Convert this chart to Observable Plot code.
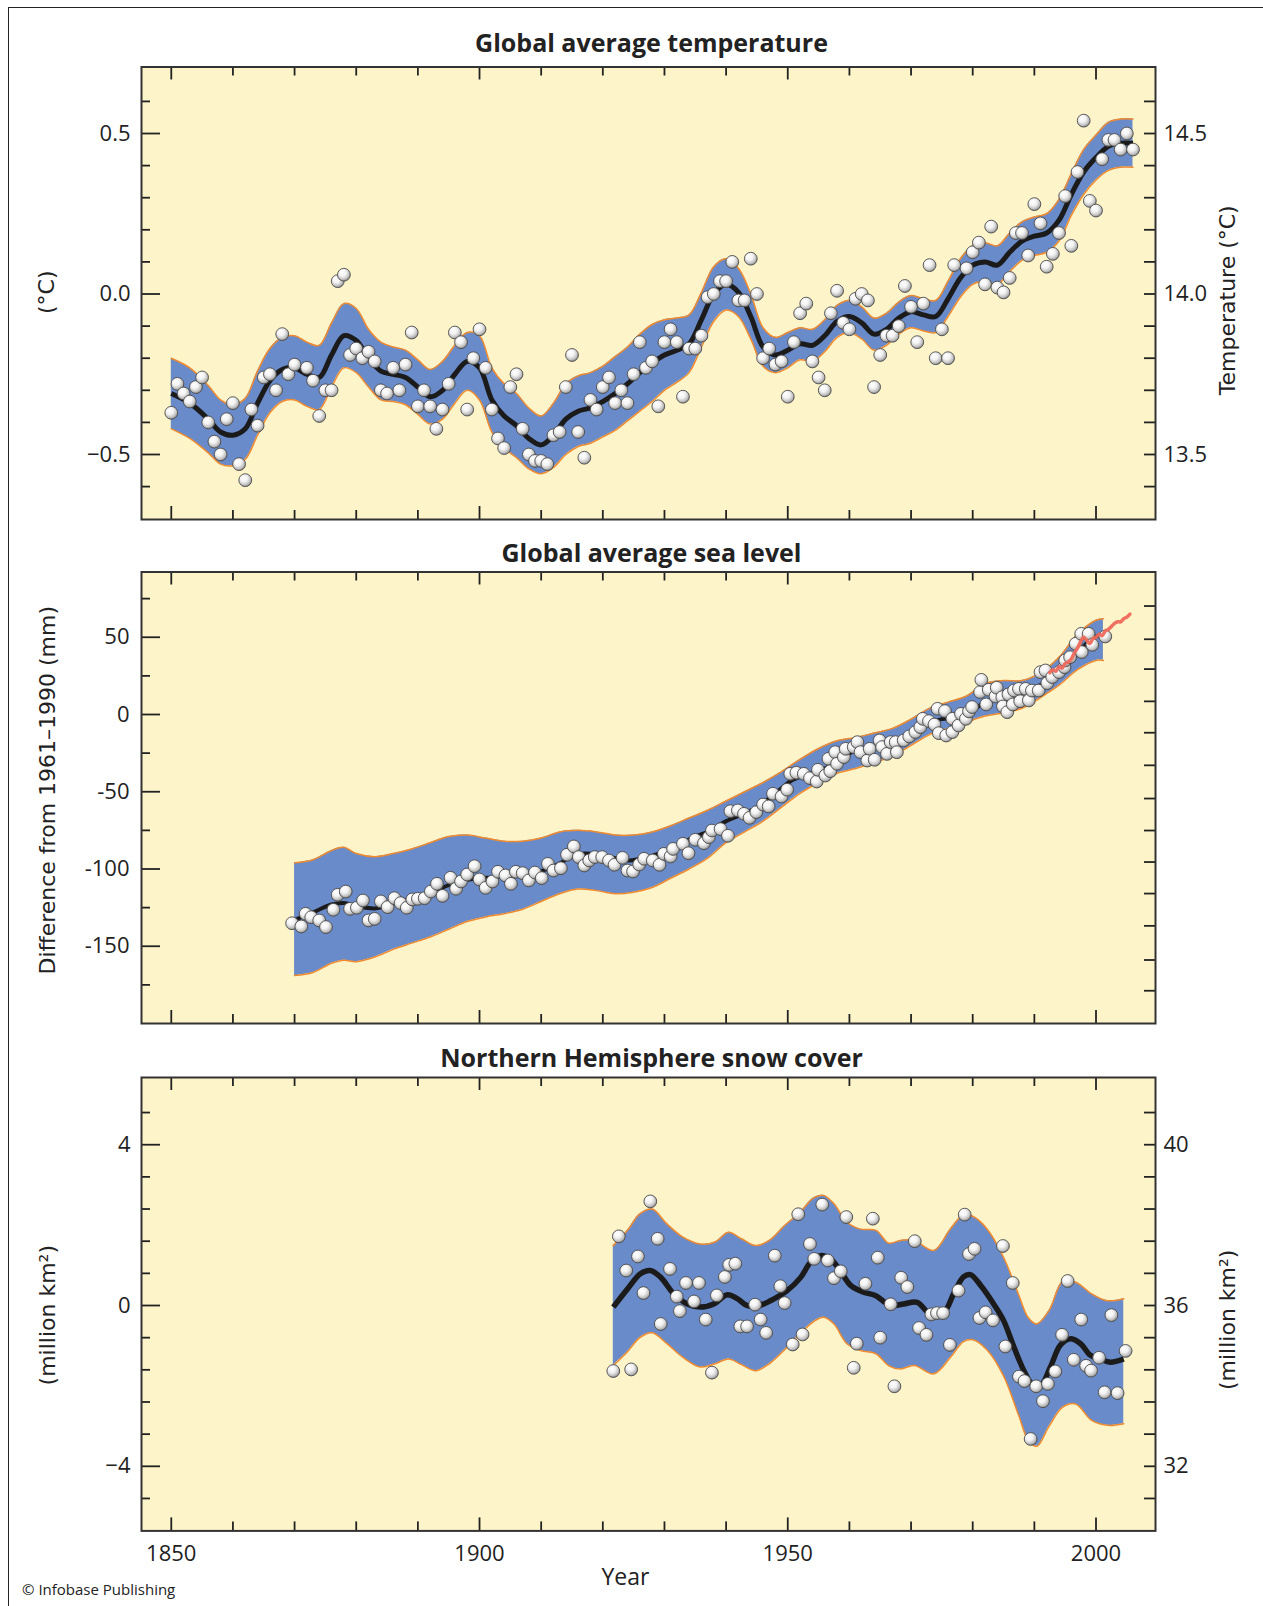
<!DOCTYPE html>
<html>
<head>
<meta charset="utf-8">
<script src="https://cdn.jsdelivr.net/npm/d3@7"></script>
<script src="https://cdn.jsdelivr.net/npm/@observablehq/plot@0.6"></script>
<style>
  html, body { margin: 0; padding: 0; background: #fff; }
  #root { position: relative; width: 1263px; height: 1606px; overflow: hidden; font-family: "Open Sans", sans-serif; }
  #border { position: absolute; left: 8px; top: 7px; width: 1300px; height: 1650px; border-left: 1.5px solid #222; border-top: 1.5px solid #222; }
  .panel { position: absolute; left: 0; }
  #credit { position: absolute; left: 22px; top: 1579px; font-size: 15px; color: #222; font-family: "Open Sans", sans-serif; }
</style>
</head>
<body>
<svg width="0" height="0" style="position:absolute">
  <defs>
    <radialGradient id="ball" cx="0.42" cy="0.38" r="0.62" fx="0.36" fy="0.3">
      <stop offset="0" stop-color="#ffffff"/>
      <stop offset="0.45" stop-color="#f3f3f3"/>
      <stop offset="0.8" stop-color="#c2c2c2"/>
      <stop offset="1" stop-color="#8a8a8a"/>
    </radialGradient>
  </defs>
</svg>
<div id="root">
  <div id="border"></div>
  <div id="credit">© Infobase Publishing</div>
</div>
<script>
// ---------------- DATA ----------------
// shared x axis
const xTicks = [1850,1860,1870,1880,1890,1900,1910,1920,1930,1940,1950,1960,1970,1980,1990,2000];
const xMajorTicks = [1850,1900,1950,2000];
const xTickLabels = ["1850","1900","1950","2000"];

// Panel 1: global average temperature (annual values 1850-2006, null = not visible)
const tempStartYear = 1850;
const tempValues = [
  -0.37,-0.28,-0.31,-0.335,-0.29,-0.26,-0.40,-0.46,-0.50,-0.39,
  -0.34,-0.53,-0.58,-0.36,-0.41,-0.26,-0.25,-0.30,-0.125,-0.25,
  -0.22,null,-0.23,-0.27,-0.38,-0.30,-0.30,0.04,0.06,-0.19,
  -0.17,-0.20,-0.18,-0.21,-0.30,-0.31,-0.23,-0.30,-0.22,-0.12,
  -0.35,-0.30,-0.35,-0.42,-0.36,-0.28,-0.12,-0.15,-0.36,-0.20,
  -0.11,-0.23,-0.36,-0.45,-0.48,-0.29,-0.25,-0.42,-0.50,-0.52,
  -0.52,-0.53,-0.44,-0.43,-0.29,-0.19,-0.43,-0.51,-0.33,-0.36,
  -0.29,-0.26,-0.34,-0.30,-0.34,-0.25,-0.15,-0.23,-0.21,-0.35,
  -0.15,-0.11,-0.15,-0.32,-0.17,-0.17,-0.13,-0.01,0.00,0.04,
  0.04,0.10,-0.02,-0.02,0.11,0.00,-0.20,-0.17,-0.22,-0.21,
  -0.32,-0.15,-0.06,-0.03,-0.21,-0.26,-0.30,-0.06,0.01,-0.09,
  -0.11,-0.015,0.00,-0.02,-0.29,-0.19,-0.13,-0.13,-0.10,0.025,
  -0.04,-0.15,-0.03,0.09,-0.20,-0.11,-0.20,0.09,null,0.08,
  0.13,0.16,0.03,0.21,0.02,0.005,0.05,0.19,0.19,0.12,
  0.28,0.22,0.085,0.125,0.19,0.305,0.15,0.38,0.54,0.29,
  0.26,0.42,0.48,0.48,0.45,0.50,0.45
];
const tempSmoothYears = [1850,1853,1856,1858,1860,1862,1864,1866,1868,1870,1872,1874,1876,1878,1880,1882,1884,1886,1888,1890,1892,1894,1896,1898,1900,1902,1904,1906,1908,1910,1912,1914,1916,1918,1920,1922,1924,1926,1928,1930,1932,1934,1936,1938,1940,1942,1944,1946,1948,1950,1952,1954,1956,1958,1960,1962,1964,1966,1968,1970,1972,1974,1976,1978,1980,1982,1984,1986,1988,1990,1992,1994,1996,1998,2000,2002,2004,2006];
const tempSmooth = [-0.31,-0.34,-0.39,-0.43,-0.44,-0.42,-0.34,-0.27,-0.235,-0.23,-0.25,-0.26,-0.19,-0.13,-0.145,-0.20,-0.24,-0.25,-0.26,-0.29,-0.32,-0.30,-0.25,-0.21,-0.23,-0.33,-0.38,-0.41,-0.45,-0.47,-0.44,-0.39,-0.365,-0.355,-0.335,-0.31,-0.28,-0.245,-0.215,-0.19,-0.175,-0.155,-0.08,0.00,0.03,0.005,-0.07,-0.165,-0.19,-0.175,-0.155,-0.16,-0.13,-0.085,-0.07,-0.09,-0.125,-0.11,-0.075,-0.055,-0.065,-0.07,-0.015,0.05,0.09,0.10,0.09,0.13,0.165,0.18,0.19,0.23,0.31,0.38,0.425,0.46,0.47,0.47];
const tempUncertainty = [0.11,0.11,0.105,0.10,0.095,0.095,0.10,0.10,0.10,0.10,0.10,0.10,0.10,0.10,0.10,0.09,0.09,0.085,0.085,0.085,0.085,0.09,0.09,0.09,0.10,0.10,0.10,0.10,0.095,0.09,0.10,0.11,0.11,0.11,0.11,0.115,0.115,0.12,0.12,0.11,0.10,0.09,0.085,0.085,0.08,0.075,0.07,0.06,0.055,0.055,0.05,0.05,0.05,0.05,0.05,0.05,0.05,0.05,0.05,0.05,0.05,0.05,0.055,0.06,0.06,0.06,0.06,0.06,0.06,0.06,0.06,0.065,0.065,0.07,0.07,0.075,0.075,0.075];
const tempLeftTicks = [-0.6,-0.5,-0.4,-0.3,-0.2,-0.1,0,0.1,0.2,0.3,0.4,0.5,0.6];
const tempMajorTicks = [-0.5,0,0.5];
const tempLeftLabels = ["\u22120.5","0.0","0.5"];
const tempRightLabels = ["13.5","14.0","14.5"];

// Panel 2: global average sea level (mm, difference from 1961-1990)
const seaYears = [1869.6,1871.1,1871.8,1872.7,1874.0,1875.1,1876.3,1877.0,1878.3,1879.0,1880.1,1881.1,1882.0,1883.0,1884.0,1885.1,1886.2,1887.2,1888.2,1889.1,1890.0,1891.1,1892.1,1893.1,1894.0,1895.3,1896.2,1897.0,1898.0,1899.2,1900.0,1901.0,1902.1,1903.0,1904.2,1905.1,1905.9,1907.0,1908.0,1909.0,1910.1,1911.1,1912.0,1913.2,1914.2,1915.3,1916.1,1917.0,1917.8,1918.7,1919.9,1921.0,1921.9,1923.2,1924.0,1924.9,1925.9,1926.7,1928.1,1929.2,1929.9,1931.0,1931.4,1933.0,1933.9,1935.0,1936.4,1937.2,1937.7,1939.1,1940.3,1940.7,1941.9,1942.9,1943.8,1944.9,1946.0,1946.9,1947.6,1949.0,1949.9,1950.4,1951.4,1952.6,1953.6,1954.7,1954.9,1956.1,1956.6,1956.9,1957.7,1958.0,1959.1,1959.4,1960.7,1961.3,1961.8,1962.9,1963.3,1964.1,1964.9,1965.3,1966.1,1966.7,1967.5,1967.7,1968.8,1969.7,1970.7,1971.5,1971.9,1972.9,1973.8,1974.3,1974.5,1975.5,1975.7,1976.7,1976.7,1977.7,1978.1,1978.9,1979.4,1979.9,1981.2,1981.4,1982.2,1982.6,1983.7,1983.9,1984.8,1984.9,1985.6,1985.8,1986.5,1986.7,1987.5,1987.7,1988.6,1989.1,1989.6,1990.7,1991.0,1991.8,1992.1,1992.9,1994.0,1994.9,1995.0,1995.8,1996.7,1997.6,1997.7,1998.8,1999.4,2001.5];
const seaValues = [-135.1,-137.2,-129.0,-131.2,-133.3,-137.6,-126.4,-116.7,-114.6,-125.8,-125.1,-120.4,-133.3,-132.3,-121.0,-124.7,-118.9,-122.1,-125.1,-119.7,-119.3,-118.9,-114.6,-109.6,-117.4,-105.7,-112.8,-108.1,-103.6,-98.2,-106.8,-112.2,-108.1,-101.8,-104.2,-109.6,-101.8,-102.7,-107.4,-102.3,-105.9,-96.7,-101.0,-99.5,-90.8,-85.4,-92.3,-97.7,-94.5,-92.3,-92.3,-94.5,-97.3,-92.8,-101.0,-101.6,-97.1,-93.4,-94.5,-97.3,-90.2,-91.9,-87.0,-83.7,-89.8,-81.1,-83.3,-79.4,-75.1,-74.2,-78.5,-62.6,-62.1,-64.3,-66.9,-63.2,-58.3,-59.5,-51.3,-53.1,-48.7,-38.4,-37.7,-38.4,-41.2,-43.4,-35.8,-39.5,-28.7,-36.7,-24.4,-31.9,-27.6,-22.2,-21.1,-17.9,-24.4,-29.8,-22.2,-29.3,-16.8,-21.1,-25.5,-17.9,-17.9,-24.4,-16.8,-14.2,-11.4,-8.2,-2.8,-4.3,-6.5,3.7,-12.1,2.2,-13.6,-11.4,-2.8,-7.1,0.4,-2.8,2.0,4.8,14.5,22.4,6.5,16.0,11.7,17.3,11.2,5.2,1.5,13.0,6.5,15.5,16.6,8.6,16.6,9.1,15.5,15.5,27.4,28.5,20.3,24.2,27.4,30.6,35.0,37.1,45.8,52.2,40.4,52.2,45.1,50.5];
const seaSmoothYears = [1870,1873,1876,1878,1880,1883,1885,1887,1889,1891.5,1894,1896,1898,1900,1902,1905,1907,1909,1911,1913,1915,1917,1920,1922,1924,1926,1928,1930.5,1932.5,1935,1937,1940,1943,1945,1948,1950.5,1953,1956,1959,1961,1964,1967,1970,1972,1975,1977.5,1980,1983,1986,1988,1991,1993.5,1996.5,1999,2001];
const seaSmooth = [-133,-128,-123,-122,-124,-125.5,-124,-121.5,-119,-116,-112,-109,-107,-106,-105.5,-104.5,-104,-102.5,-100,-96.5,-91.5,-90,-91,-93,-94.5,-93.5,-91.5,-88,-84,-79,-76,-69,-64,-60,-51,-43,-39,-35,-28,-23,-21,-19,-11,-6,-3,-2,3,10,13,14.5,19,25,37,48,52];
const seaBandYears = [1870,1873,1876,1878,1880,1883,1886,1889,1892,1895,1898,1901,1904,1907,1910,1913,1916,1919,1922,1925,1928,1931,1934,1937,1940,1943,1946,1949,1952,1955,1958,1961,1964,1967,1970,1973,1976,1979,1982,1985,1988,1991,1994,1997,2000,2001.2];
const seaBandHigh = [-96,-94,-88,-86,-90,-92,-90,-87,-83,-79,-78,-80,-82,-82,-80,-76,-75,-76,-78,-78,-76,-72,-67,-62,-56,-50,-44,-37,-29,-22,-17,-15,-12,-9,-3,4,8,12,20,22,22,27,37,52,61,62];
const seaBandLow = [-169,-167,-161,-159,-160,-157,-152,-148,-144,-139,-134,-131,-129,-126,-121,-116,-113,-114,-116,-115,-112,-106,-100,-93,-83,-76,-69,-60,-51,-44,-38,-35,-31,-27,-20,-13,-9,-5,-1,1,4,11,19,29,35,35];
const satYears = [1992.5,1993,1993.5,1994,1994.5,1995,1995.5,1996,1996.5,1997,1997.5,1998,1998.5,1999,1999.5,2000,2000.5,2001,2001.5,2002,2002.5,2003,2003.5,2004,2004.5,2005,2005.5];
const satValues = [27,29,28,31,30,33,34,36,40,43,47,50,48,46,49,50,52,51,54,55,57,59,60,60,62,63,65];
const seaLeftTicks = [-175,-150,-125,-100,-75,-50,-25,0,25,50,75];
const seaMajorTicks = [-150,-100,-50,0,50];
const seaLeftLabels = ["-150","-100","-50","0","50"];
const seaRightTicks = [70.2,48.7,29.4,8.5,-11.8,-32.9,-54.4,-75.1,-95.5,-115.9,-136.8,-158.9,-178.8];

// Panel 3: Northern Hemisphere snow cover (million km2 anomaly)
const snowYears = [1921.7,1922.6,1923.8,1924.6,1925.7,1926.6,1927.7,1928.9,1929.4,1930.9,1932.0,1932.5,1933.5,1934.8,1935.6,1936.7,1937.7,1938.5,1939.8,1940.5,1941.5,1942.3,1943.4,1944.7,1945.6,1946.5,1947.9,1948.8,1949.5,1950.8,1951.7,1952.4,1953.6,1954.3,1955.6,1956.5,1957.5,1958.6,1959.5,1960.7,1961.2,1962.6,1963.8,1964.6,1965.0,1966.7,1967.3,1968.4,1969.4,1970.6,1971.3,1972.5,1973.3,1974.2,1975.2,1976.3,1977.7,1978.7,1979.4,1980.3,1981.1,1982.1,1983.3,1984.9,1985.3,1986.5,1987.5,1988.4,1989.4,1990.3,1991.4,1992.2,1993.4,1994.5,1995.4,1996.4,1997.6,1998.4,1999.2,2000.5,2001.4,2002.5,2003.5,2004.8];
const snowValues = [-1.63,1.72,0.87,-1.59,1.22,0.31,2.59,1.66,-0.46,0.91,0.22,-0.14,0.56,0.10,0.56,-0.35,-1.67,0.25,0.71,1.01,1.04,-0.52,-0.52,0.02,-0.35,-0.68,1.24,0.48,0.06,-0.97,2.27,-0.72,1.53,1.16,2.51,1.12,0.68,0.85,2.20,-1.55,-0.95,0.54,2.16,1.19,-0.80,0.03,-2.01,0.69,0.46,1.60,-0.56,-0.73,-0.22,-0.19,-0.19,-0.98,0.37,2.26,1.28,1.41,-0.31,-0.17,-0.37,1.48,-1.02,0.56,-1.77,-1.88,-3.32,-2.01,-2.38,-1.95,-1.64,-0.73,0.61,-1.35,-0.35,-1.50,-1.62,-1.30,-2.16,-0.24,-2.18,-1.13];
const snowSmoothYears = [1921.7,1924,1926.1,1927.7,1929.4,1931.5,1933.7,1935.8,1938,1940.2,1941.8,1943.4,1945,1947.2,1949.9,1952.1,1953.7,1955.3,1956.9,1958.5,1960.2,1962.3,1964.2,1966.7,1968.8,1971,1973.1,1975.3,1976.9,1978.5,1979.6,1981.3,1983.4,1985,1986.7,1988.3,1989.6,1991,1992.6,1994.2,1995.8,1997.5,1999.1,2000.7,2002.3,2004.5];
const snowSmooth = [-0.04,0.41,0.79,0.87,0.70,0.29,0.04,-0.04,0.04,0.27,0.17,0.0,-0.02,0.12,0.37,0.70,1.08,1.24,1.16,0.87,0.50,0.33,0.25,0.0,0.04,0.08,-0.21,-0.17,0.29,0.71,0.77,0.50,0.04,-0.37,-1.04,-1.62,-1.95,-1.99,-1.53,-0.99,-0.83,-0.95,-1.24,-1.33,-1.41,-1.33];
const snowBandYears = [1921.7,1924,1926,1928,1930.4,1933,1935.8,1938.2,1940.4,1942.5,1944.8,1947,1949.5,1952,1954.2,1955.8,1957.5,1959.6,1961.8,1964.3,1966.4,1968.3,1970.5,1973.7,1976.4,1978.5,1980,1982.3,1985,1987.5,1989,1990.4,1992.4,1994.6,1996.7,1999.3,2001.8,2004.5];
const snowBandHigh = [1.49,1.87,2.28,2.40,2.03,1.70,1.53,1.58,1.82,1.66,1.49,1.62,1.99,2.32,2.68,2.74,2.53,2.07,1.90,1.87,1.55,1.62,1.62,1.37,1.91,2.25,2.22,1.91,1.20,0.25,-0.30,-0.46,-0.12,0.60,0.58,0.29,0.12,0.17];
const snowBandLow = [-1.49,-1.15,-0.80,-0.68,-0.95,-1.29,-1.53,-1.45,-1.33,-1.47,-1.62,-1.45,-1.10,-0.70,-0.40,-0.29,-0.46,-0.95,-1.12,-1.20,-1.50,-1.58,-1.49,-1.70,-1.29,-0.90,-0.85,-1.10,-1.75,-2.75,-3.35,-3.50,-3.00,-2.53,-2.45,-2.86,-2.98,-2.94];
const snowTicks = [-4.8,-4,-3.2,-2.4,-1.6,-0.8,0,0.8,1.6,2.4,3.2,4,4.8];
const snowMajorTicks = [-4,0,4];
const snowLeftLabels = ["\u22124","0","4"];
const snowRightLabels = ["32","36","40"];

// ---------------- STYLE / LAYOUT ----------------
const WIDTH = 1263, FRAME_LEFT = 141, FRAME_RIGHT = 1155;
const X_DOMAIN = [1845.17, 2009.65];
const PX_PER_YEAR = (FRAME_RIGHT - FRAME_LEFT) / (X_DOMAIN[1] - X_DOMAIN[0]);
const C = { bg: "#fdf5c9", band: "#6a8bc9", edge: "#f08a2e", line: "#1b1b1b", frame: "#333", tick: "#222", text: "#222", sat: "#ee6a5c" };

const zip2 = (xs, ys) => xs.map((x, i) => ({ x, y: ys[i] }));

function tickMarks(yDomain, frameH, leftTicks, leftMajor, rightTicks) {
  const pxY = frameH / (yDomain[1] - yDomain[0]);
  const [x0, x1] = X_DOMAIN, [y0, y1] = yDomain;
  const s = { stroke: C.tick, strokeWidth: 1.8 };
  const xl = d => (xMajorTicks.includes(d) ? 13 : 9) / pxY;
  return [
    Plot.ruleY(leftTicks, { y: d => d, x1: x0, x2: d => x0 + (leftMajor.includes(d) ? 19 : 9) / PX_PER_YEAR, ...s }),
    Plot.ruleY(rightTicks, { y: d => d, x1: x1 - 11 / PX_PER_YEAR, x2: x1, ...s }),
    Plot.ruleX(xTicks, { x: d => d, y1: y0, y2: d => y0 + xl(d), ...s }),
    Plot.ruleX(xTicks, { x: d => d, y1: d => y1 - xl(d), y2: y1, ...s })
  ];
}

function seriesMarks(band, smooth, lineWidth) {
  return [
    Plot.areaY(band, { x: "x", y1: "lo", y2: "hi", fill: C.band, curve: "catmull-rom" }),
    Plot.line(band, { x: "x", y: "hi", stroke: C.edge, strokeWidth: 1.5, curve: "catmull-rom" }),
    Plot.line(band, { x: "x", y: "lo", stroke: C.edge, strokeWidth: 1.5, curve: "catmull-rom" }),
    Plot.line(smooth, { x: "x", y: "y", stroke: C.line, strokeWidth: lineWidth, curve: "catmull-rom", strokeLinecap: "butt" }),
  ];
}

function dotMark(dots) {
  return Plot.dot(dots, { x: "x", y: "y", r: 6.4, fill: "url(#ball)", stroke: "#4b4b4b", strokeWidth: 0.9 });
}

function makePanel({ top, height, marginTop, marginBottom, yDomain, marks, ticks }) {
  const svg = Plot.plot({
    width: WIDTH, height,
    marginLeft: FRAME_LEFT, marginRight: WIDTH - FRAME_RIGHT, marginTop, marginBottom,
    x: { type: "linear", domain: X_DOMAIN, axis: null },
    y: { type: "linear", domain: yDomain, axis: null },
    style: { fontFamily: '"Open Sans", sans-serif', background: "transparent", color: C.text, overflow: "visible" },
    marks: [Plot.frame({ fill: C.bg }), ...marks, ...ticks, Plot.frame({ stroke: C.frame, strokeWidth: 2 })]
  });
  const div = document.createElement("div");
  div.className = "panel";
  div.style.top = top + "px";
  div.appendChild(svg);
  document.getElementById("root").appendChild(div);
}

const labelFor = (ticks, labels) => d => labels[ticks.indexOf(d)];
const titleOpts = { text: d => d, frameAnchor: "top", textAnchor: "middle", lineAnchor: "middle", fontSize: 25, fontWeight: "bold", fill: C.text, dx: 3 };
const axisTitle = { text: d => d, rotate: -90, textAnchor: "middle", lineAnchor: "middle", fontSize: 22, fontFamily: '"DejaVu Sans", sans-serif', fill: C.text };
const tickText = { tickSize: 0, fontSize: 22, label: null, fill: C.text };

// ---------------- PANEL 1 ----------------
{
  const yDomain = [-0.7025, 0.7072];
  const dots = tempValues.map((v, i) => ({ x: tempStartYear + i, y: v }));
  const band = tempSmoothYears.map((x, i) => ({ x, lo: tempSmooth[i] - tempUncertainty[i], hi: tempSmooth[i] + tempUncertainty[i] }));
  const smooth = zip2(tempSmoothYears, tempSmooth);
  makePanel({
    top: 0, height: 530, marginTop: 66.5, marginBottom: 11, yDomain,
    marks: [
      ...seriesMarks(band, smooth, 5),
      dotMark(dots),
      Plot.axisY(tempMajorTicks, { ...tickText, anchor: "left", tickPadding: 11, tickFormat: labelFor(tempMajorTicks, tempLeftLabels) }),
      Plot.axisY(tempMajorTicks, { ...tickText, anchor: "right", tickPadding: 8, tickFormat: labelFor(tempMajorTicks, tempRightLabels) }),
      Plot.text(["Global average temperature"], { ...titleOpts, dy: -23.5 }),
      Plot.text(["(°C)"], { ...axisTitle, frameAnchor: "left", dx: -95, dy: -1 }),
      Plot.text(["Temperature (°C)"], { ...axisTitle, frameAnchor: "right", dx: 72, dy: 7 })
    ],
    ticks: tickMarks(yDomain, 452.5, tempLeftTicks, tempMajorTicks, tempLeftTicks)
  });
}

// ---------------- PANEL 2 ----------------
{
  const yDomain = [-200, 92.23];
  const dots = zip2(seaYears, seaValues);
  const band = seaBandYears.map((x, i) => ({ x, lo: seaBandLow[i], hi: seaBandHigh[i] }));
  const smooth = zip2(seaSmoothYears, seaSmooth);
  makePanel({
    top: 530, height: 500, marginTop: 41.5, marginBottom: 7, yDomain,
    marks: [
      ...seriesMarks(band, smooth, 4),
      dotMark(dots),
      Plot.line(zip2(satYears, satValues), { x: "x", y: "y", stroke: C.sat, strokeWidth: 3.5, curve: "catmull-rom", strokeOpacity: 0.95 }),
      Plot.axisY(seaMajorTicks, { ...tickText, anchor: "left", tickPadding: 12, tickFormat: labelFor(seaMajorTicks, seaLeftLabels) }),
      Plot.text(["Global average sea level"], { ...titleOpts, dy: -18.5 }),
      Plot.text(["Difference from 1961\u20131990 (mm)"], { ...axisTitle, frameAnchor: "left", dx: -94, dy: -7.5 })
    ],
    ticks: tickMarks(yDomain, 451.5, seaLeftTicks, seaMajorTicks, seaRightTicks)
  });
}

// ---------------- PANEL 3 ----------------
{
  const yDomain = [-5.607, 5.672];
  const dots = zip2(snowYears, snowValues);
  const band = snowBandYears.map((x, i) => ({ x, lo: snowBandLow[i], hi: snowBandHigh[i] }));
  const smooth = zip2(snowSmoothYears, snowSmooth);
  makePanel({
    top: 1030, height: 576, marginTop: 47, marginBottom: 75.6, yDomain,
    marks: [
      ...seriesMarks(band, smooth, 5.5),
      dotMark(dots),
      Plot.axisY(snowMajorTicks, { ...tickText, anchor: "left", tickPadding: 11, tickFormat: labelFor(snowMajorTicks, snowLeftLabels) }),
      Plot.axisY(snowMajorTicks, { ...tickText, anchor: "right", tickPadding: 8, tickFormat: labelFor(snowMajorTicks, snowRightLabels) }),
      Plot.axisX(xMajorTicks, { ...tickText, anchor: "bottom", tickPadding: 14, tickFormat: labelFor(xMajorTicks, xTickLabels) }),
      Plot.text(["Year"], { text: d => d, frameAnchor: "bottom", textAnchor: "middle", lineAnchor: "middle", dy: 46.6, dx: -23, fontSize: 23, fill: C.text }),
      Plot.text(["Northern Hemisphere snow cover"], { ...titleOpts, dy: -19 }),
      Plot.text(["(million km²)"], { ...axisTitle, frameAnchor: "left", dx: -94, dy: 11 }),
      Plot.text(["(million km²)"], { ...axisTitle, frameAnchor: "right", dx: 72, dy: 15.6 })
    ],
    ticks: tickMarks(yDomain, 453.4, snowTicks, snowMajorTicks, snowTicks)
  });
}
</script>
</body>
</html>
